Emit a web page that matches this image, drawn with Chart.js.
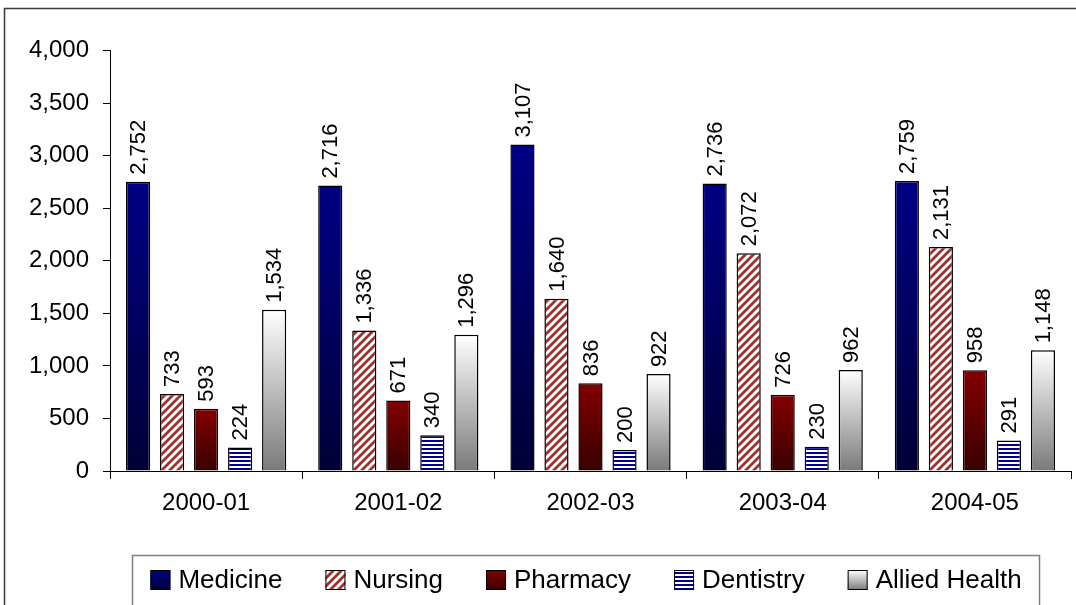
<!DOCTYPE html>
<html>
<head>
<meta charset="utf-8">
<script src="https://cdn.jsdelivr.net/npm/chart.js@4.4.0/dist/chart.umd.min.js"></script>
<style>
  html, body { margin: 0; padding: 0; background: #fff; }
</style>
</head>
<body>
<canvas id="chart0" width="1076" height="605"></canvas>
<script>
var years = ["2000-01", "2001-02", "2002-03", "2003-04", "2004-05"];
var seriesNames = ["Medicine", "Nursing", "Pharmacy", "Dentistry", "Allied Health"];
var medicine = [2752, 2716, 3107, 2736, 2759];
var nursing = [733, 1336, 1640, 2072, 2131];
var pharmacy = [593, 671, 836, 726, 958];
var dentistry = [224, 340, 200, 230, 291];
var alliedHealth = [1534, 1296, 922, 962, 1148];
var yMin = 0;
var yMax = 4000;
var yStep = 500;

var fontFamily = "'Liberation Sans', Arial, sans-serif";

// stripe patterns like the excel fills
function htMakePattern(kind) {
    var c = document.createElement("canvas");
    var g = c.getContext("2d");
    if (kind == "diag") {
        c.width = 8; c.height = 8;
        g.fillStyle = "#fff";
        g.fillRect(0, 0, 8, 8);
        g.strokeStyle = "#a0302c";
        g.lineWidth = 2.8;
        g.beginPath();
        g.moveTo(-2, 10); g.lineTo(10, -2);
        g.moveTo(-6, 6); g.lineTo(6, -6);
        g.moveTo(2, 14); g.lineTo(14, 2);
        g.stroke();
    } else {
        c.width = 4; c.height = 4;
        g.fillStyle = "#fff";
        g.fillRect(0, 0, 4, 4);
        g.fillStyle = "#00008c";
        g.fillRect(0, 0, 4, 2);
    }
    return g.createPattern(c, "repeat");
}

var nursingFill = htMakePattern("diag");
var dentistryFill = htMakePattern("hstripe");

function htGradient(ctx, top, bottom, c0, c1) {
    var gr = ctx.createLinearGradient(0, top, 0, bottom);
    gr.addColorStop(0, c0);
    gr.addColorStop(1, c1);
    return gr;
}

function htBarGradient(c0, c1) {
    return function(context) {
        var chart = context.chart;
        if (!chart.chartArea || context.raw === undefined) return c0;
        var y = chart.scales.y;
        return htGradient(chart.ctx, y.getPixelForValue(context.raw), y.getPixelForValue(0), c0, c1);
    };
}

var gradStops = [
    ["#000086", "#000036"],
    null,
    ["#840000", "#380000"],
    null,
    ["#ffffff", "#7a7a7a"]
];

// rotated value labels above each bar
const valueLabels = {
    id: "valueLabels",
    afterDatasetsDraw(chart) {
        var ctx = chart.ctx;
        ctx.save();
        ctx.font = "22px " + fontFamily;
        ctx.fillStyle = "#000";
        ctx.textAlign = "left";
        ctx.textBaseline = "middle";
        chart.data.datasets.forEach(function(ds, i) {
            var meta = chart.getDatasetMeta(i);
            meta.data.forEach(function(bar, j) {
                ctx.save();
                ctx.translate(bar.x + 1, bar.y - 7);
                ctx.rotate(-Math.PI / 2);
                ctx.fillText(ds.data[j].toLocaleString("en-US"), 0, 0);
                ctx.restore();
            });
        });
        ctx.restore();
    }
};

// outer frame + legend box drawn by hand
const frameLegend = {
    id: "frameLegend",
    afterDraw(chart) {
        var ctx = chart.ctx;
        ctx.save();
        ctx.strokeStyle = "#3a3a3a";
        ctx.lineWidth = 1.5;
        ctx.strokeRect(4.5, 8.5, chart.width + 20, chart.height + 20);

        var box = { left: 132.5, right: 1039.5, top: 555.5 };
        ctx.strokeStyle = "#808080";
        ctx.lineWidth = 1.5;
        ctx.strokeRect(box.left, box.top, box.right - box.left, 100);

        ctx.font = "26px " + fontFamily;
        ctx.textBaseline = "middle";
        ctx.textAlign = "left";
        var sw = 20, gapText = 8, gapItem = 43;
        var widths = seriesNames.map(function(n) { return ctx.measureText(n).width; });
        var total = 0;
        widths.forEach(function(w) { total += sw + gapText + w; });
        total += gapItem * (seriesNames.length - 1);
        var x = (box.left + box.right) / 2 - total / 2;
        var cy = 580;
        chart.data.datasets.forEach(function(ds, i) {
            var fill;
            if (gradStops[i]) fill = htGradient(ctx, cy - sw / 2, cy + sw / 2, gradStops[i][0], gradStops[i][1]);
            else fill = ds.legendFill;
            ctx.fillStyle = fill;
            ctx.fillRect(x, cy - sw / 2, sw, sw);
            ctx.strokeStyle = "#000";
            ctx.lineWidth = 1;
            ctx.strokeRect(x + 0.5, cy - sw / 2 + 0.5, sw - 1, sw - 1);
            ctx.fillStyle = "#000";
            ctx.fillText(seriesNames[i], x + sw + gapText, cy + 1);
            x += sw + gapText + widths[i] + gapItem;
        });
        ctx.restore();
    }
};

function htDataset(i, values, fill) {
    return {
        label: seriesNames[i],
        data: values,
        backgroundColor: fill,
        legendFill: fill,
        borderColor: "#000",
        borderWidth: 1.5,
        categoryPercentage: 0.885,
        barPercentage: 0.71
    };
}

function htPlotChart(dest) {
    const ctx = document.getElementById(dest).getContext("2d");
    var chartId = new Chart(ctx, {
        type: "bar",
        data: {
            labels: years,
            datasets: [
                htDataset(0, medicine, htBarGradient(gradStops[0][0], gradStops[0][1])),
                htDataset(1, nursing, nursingFill),
                htDataset(2, pharmacy, htBarGradient(gradStops[2][0], gradStops[2][1])),
                htDataset(3, dentistry, dentistryFill),
                htDataset(4, alliedHealth, htBarGradient(gradStops[4][0], gradStops[4][1]))
            ]
        },
        options: {
            responsive: false,
            animation: false,
            layout: {
                padding: { top: 50.7, right: 5, left: 0, bottom: 0 }
            },
            scales: {
                x: {
                    afterFit: function(scale) { scale.height = 134; },
                    grid: {
                        offset: true,
                        drawOnChartArea: false,
                        drawTicks: true,
                        tickLength: 8,
                        color: "#000",
                        lineWidth: 1
                    },
                    border: { display: true, color: "#000", width: 1 },
                    ticks: {
                        color: "#000",
                        padding: 10,
                        font: { family: fontFamily, size: 24 }
                    }
                },
                y: {
                    min: yMin,
                    max: yMax,
                    afterFit: function(scale) { scale.width = 110; },
                    grid: {
                        drawOnChartArea: false,
                        drawTicks: true,
                        tickLength: 7,
                        color: "#000",
                        lineWidth: 1
                    },
                    border: { display: true, color: "#000", width: 1 },
                    ticks: {
                        stepSize: yStep,
                        color: "#000",
                        padding: 14,
                        font: { family: fontFamily, size: 24 }
                    }
                }
            },
            plugins: {
                legend: { display: false },
                tooltip: { enabled: false }
            }
        },
        plugins: [valueLabels, frameLegend]
    });
    return chartId;
}

htPlotChart("chart0");
</script>
</body>
</html>
